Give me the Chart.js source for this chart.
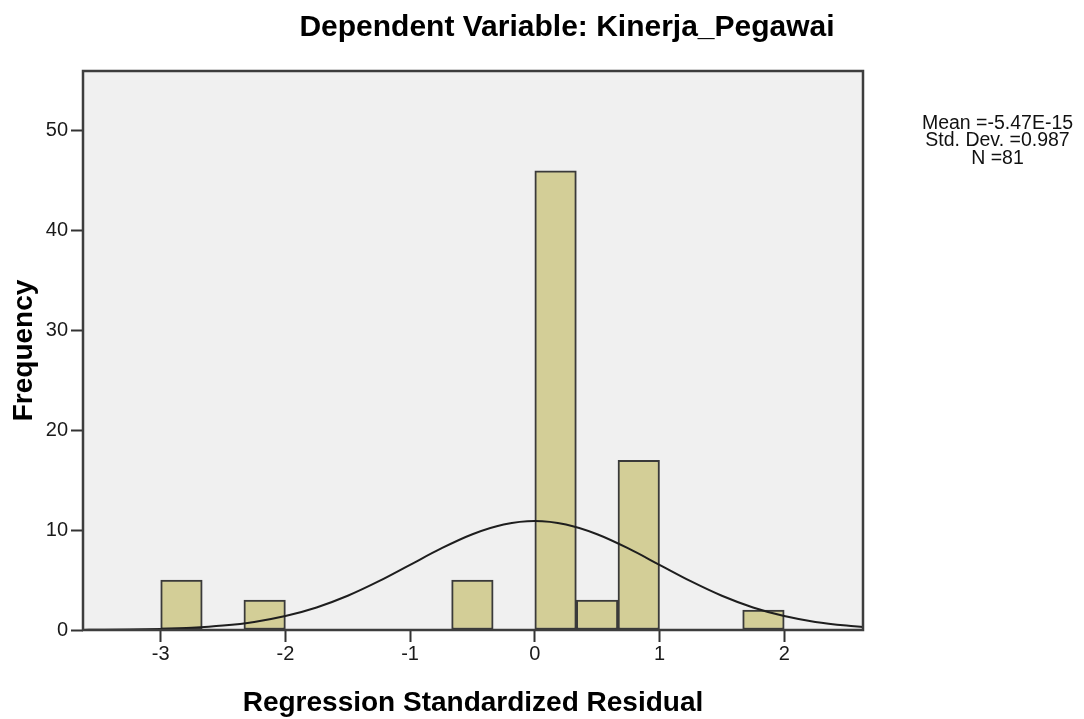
<!DOCTYPE html>
<html>
<head>
<meta charset="utf-8">
<title>Histogram - Kinerja_Pegawai</title>
<script src="https://cdn.jsdelivr.net/npm/chart.js@4.4.1/dist/chart.umd.min.js"></script>
<style>
  html, body { margin: 0; padding: 0; background: #ffffff; }
  #wrap { width: 1084px; height: 719px; }
</style>
</head>
<body>
<div id="wrap"><canvas id="histChart" width="1084" height="719"></canvas></div>
<script>
// --- data ---
const binStarts = [-3, -2.333, -0.667, 0, 0.333, 0.667, 1.667];   // left edge of each bin
const binWidth = 0.3333;
const binFreq = [5, 3, 5, 46, 3, 17, 2];

// normal curve, heights
const curveX = [-3.62, -3.5, -3.25, -3, -2.75, -2.5, -2.25, -2, -1.75, -1.5, -1.25, -1, -0.75, -0.5, -0.25,
                0, 0.25, 0.5, 0.75, 1, 1.25, 1.5, 1.75, 2, 2.25, 2.5, 2.63];
const curveY = [0.01, 0.02, 0.05, 0.11, 0.22, 0.44, 0.81, 1.40, 2.26, 3.43, 4.89, 6.53, 8.17, 9.59, 10.56,
                10.91, 10.56, 9.59, 8.17, 6.53, 4.89, 3.43, 2.26, 1.40, 0.81, 0.44, 0.31];

const xTickValues = [-3, -2, -1, 0, 1, 2];
const yTickValues = [0, 10, 20, 30, 40, 50];

const chartTitle = 'Dependent Variable: Kinerja_Pegawai';
const statLines = ['Mean =-5.47E-15', 'Std. Dev. =0.987', 'N =81'];

const FONT = "'Liberation Sans', Arial, Helvetica, sans-serif";
Chart.defaults.font.family = FONT;

// --- plot background, frame and the extra texts ---
const spssFrame = {
    id: 'spssFrame',
    beforeDatasetsDraw(chart) {
        const { ctx, chartArea: a } = chart;
        ctx.save();
        ctx.fillStyle = '#f0f0f0';
        ctx.fillRect(a.left, a.top, a.right - a.left, a.bottom - a.top);
        ctx.restore();
    },
    afterDatasetsDraw(chart) {
        const { ctx, chartArea: a } = chart;
        ctx.save();
        ctx.strokeStyle = '#3d3d3d';
        ctx.lineWidth = 2.5;
        ctx.strokeRect(a.left, a.top, a.right - a.left, a.bottom - a.top);
        ctx.restore();
    },
    afterDraw(chart) {
        const ctx = chart.ctx;
        ctx.save();
        ctx.fillStyle = '#000';
        ctx.textAlign = 'center';
        ctx.textBaseline = 'alphabetic';
        ctx.font = 'bold 30px ' + FONT;
        ctx.fillText(chartTitle, 567, 36);

        ctx.font = '19.5px ' + FONT;
        ctx.fillStyle = '#111';
        const baselines = [128.5, 146, 163.5];
        statLines.forEach((line, i) => ctx.fillText(line, 997.5, baselines[i]));
        ctx.restore();
    }
};

const bars = binStarts.map((s, i) => ({ x: s + binWidth / 2, y: binFreq[i] }));
const curve = curveX.map((x, i) => ({ x: x, y: curveY[i] }));

new Chart(document.getElementById('histChart'), {
    type: 'bar',
    data: {
        datasets: [
            {
                type: 'line',
                data: curve,
                borderColor: '#1e1e1e',
                borderWidth: 2,
                pointRadius: 0,
                cubicInterpolationMode: 'monotone',
                fill: false,
                order: 0
            },
            {
                type: 'bar',
                data: bars,
                backgroundColor: '#d3ce97',
                borderColor: '#3a3a3a',
                borderWidth: 2,
                borderSkipped: false,
                barPercentage: 1,
                categoryPercentage: 1,
                order: 1
            }
        ]
    },
    options: {
        responsive: false,
        animation: false,
        layout: { padding: { top: 71, right: 221, bottom: 0, left: 0 } },
        plugins: {
            legend: { display: false },
            tooltip: { enabled: false },
            title: { display: false }
        },
        scales: {
            x: {
                type: 'linear',
                offset: false,
                min: -3.623,
                max: 2.632,
                afterBuildTicks: (scale) => { scale.ticks = xTickValues.map(v => ({ value: v })); },
                afterFit: (scale) => { scale.height = 89; },
                grid: { offset: false, drawOnChartArea: false, drawTicks: true, tickLength: 12, tickColor: '#333', tickWidth: 2 },
                border: { display: false },
                ticks: { color: '#1a1a1a', font: { size: 20 }, padding: 0, maxRotation: 0 },
                title: {
                    display: true,
                    text: 'Regression Standardized Residual',
                    color: '#000',
                    font: { size: 28, weight: 'bold', lineHeight: 1 },
                    padding: { top: 0, bottom: 2 }
                }
            },
            y: {
                min: 0,
                max: 56,
                afterBuildTicks: (scale) => { scale.ticks = yTickValues.map(v => ({ value: v })); },
                afterFit: (scale) => { scale.width = 83; },
                grid: { drawOnChartArea: false, drawTicks: true, tickLength: 12, tickColor: '#333', tickWidth: 2 },
                border: { display: false },
                ticks: { color: '#1a1a1a', font: { size: 20 }, padding: 3 },
                title: {
                    display: true,
                    text: 'Frequency',
                    color: '#000',
                    font: { size: 28, weight: 'bold', lineHeight: 1 },
                    padding: { top: 10, bottom: 0 }
                }
            }
        }
    },
    plugins: [spssFrame]
});
</script>
</body>
</html>
